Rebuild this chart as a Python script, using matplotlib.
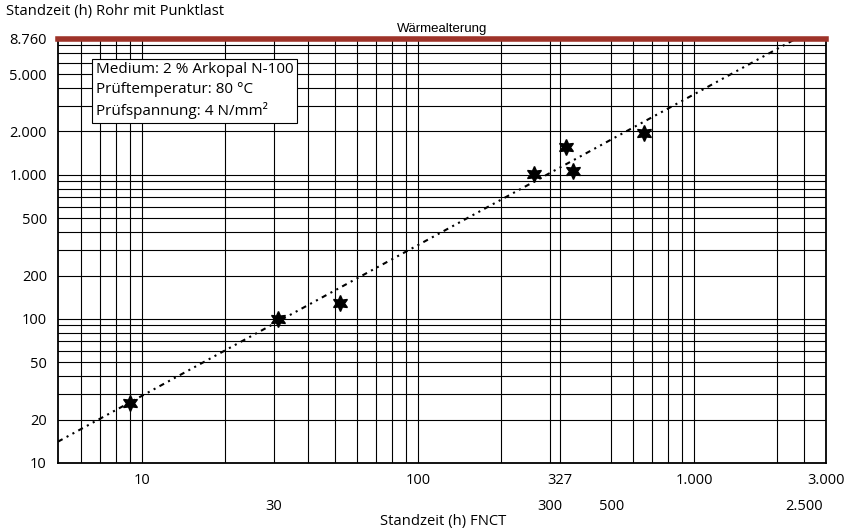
import numpy as np
import matplotlib
matplotlib.use("Agg")
import matplotlib.pyplot as plt

plt.rcParams['font.family'] = ['Open Sans', 'DejaVu Sans']

# ---- data ----
fnct_hours = [9, 31, 52, 263, 343, 365, 656]
pipe_hours = [26, 100, 129, 1016, 1556, 1055, 1950]

trend_coef = 2.64
trend_exp = 1.046

x_limits = [4.95, 3000]
y_limits = [10, 8760]

x_ticks_row1 = [10, 100, 327, 1000, 3000]
x_labels_row1 = ["10", "100", "327", "1.000", "3.000"]
x_ticks_row2 = [30, 300, 500, 2500]
x_labels_row2 = ["30", "300", "500", "2.500"]

y_ticks = [10, 20, 50, 100, 200, 500, 1000, 2000, 5000, 8760]
y_labels = ["10", "20", "50", "100", "200", "500", "1.000", "2.000", "5.000", "8.760"]

x_grid = [6, 7, 8, 9, 10, 20, 30, 40, 50, 60, 70, 80, 90, 100, 200, 300, 327,
          500, 600, 700, 800, 900, 1000, 2000, 2500]
y_grid = [20, 30, 40, 50, 60, 70, 80, 90, 100, 200, 300, 400, 500, 600, 700,
          800, 900, 1000, 2000, 3000, 4000, 5000, 6000, 7000, 8000]

info_lines = ["Medium: 2 % Arkopal N-100", "Prüftemperatur: 80 °C",
              "Prüfspannung: 4 N/mm²"]

# ---- figure ----
fig = plt.figure(figsize=(8.5, 5.32), dpi=100)
ax = fig.add_axes([58/850, 1-463/532, 768/850, 424/532])
ax.set_xscale('log')
ax.set_yscale('log')
ax.set_xlim(*x_limits)
ax.set_ylim(*y_limits)

for gx in x_grid:
    ax.axvline(gx, color='black', lw=0.8, zorder=1)
for gy in y_grid:
    ax.axhline(gy, color='black', lw=0.8, zorder=1)

# red ageing limit line
ax.axhline(y_limits[1], color='#9e3329', lw=4, clip_on=False, zorder=5)
ax.text(0.5, 1.01, "Wärmealterung", transform=ax.transAxes, ha='center',
        va='bottom', fontsize=9.5, family=['Liberation Sans', 'DejaVu Sans'])

# trend
xs = np.geomspace(x_limits[0], x_limits[1], 200)
ax.plot(xs, trend_coef * xs ** trend_exp, color='black', lw=1.5,
        dashes=(2.5, 2.2, 1, 2.2, 1, 2.2), zorder=3)

ax.plot(fnct_hours, pipe_hours, linestyle='none', marker=(6, 1, 0),
        markersize=11.5, color='black', zorder=4)

ax.set_xticks(x_ticks_row1, x_labels_row1)
ax.set_xticks(x_ticks_row2, x_labels_row2, minor=True)
ax.set_yticks(y_ticks, y_labels)
ax.yaxis.set_minor_locator(matplotlib.ticker.NullLocator())
ax.tick_params(axis='x', which='major', length=0, pad=7, labelsize=10.5)
ax.tick_params(axis='x', which='minor', length=0, pad=26, labelsize=10.5)
ax.tick_params(axis='y', length=0, pad=8, labelsize=10.5)

for s in ax.spines.values():
    s.set_linewidth(1.3)
    s.set_color('black')

ax.text(0.049, 0.945, "\n".join(info_lines), transform=ax.transAxes,
        ha='left', va='top', fontsize=11, linespacing=1.42, zorder=6,
        bbox=dict(boxstyle='square,pad=0.25', fc='white', ec='black', lw=0.8))

fig.text(6/850, 1-12/532, "Standzeit (h) Rohr mit Punktlast", ha='left',
         va='center', fontsize=10.6)
fig.text(443/850, 1-522/532, "Standzeit (h) FNCT", ha='center',
         va='center', fontsize=10.6)

fig.savefig("out.png", dpi=100)
